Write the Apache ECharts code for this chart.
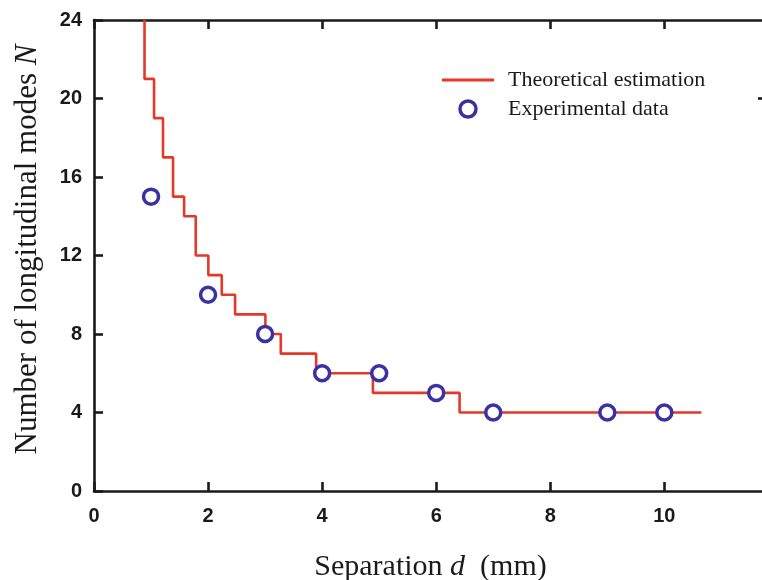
<!DOCTYPE html>
<html>
<head>
<meta charset="utf-8">
<script src="https://cdn.jsdelivr.net/npm/echarts@6/dist/echarts.min.js"></script>
<style>html,body{margin:0;padding:0;background:#fff}#c{width:762px;height:580px}</style>
</head>
<body>
<div id="c"></div>
<script>
// Theoretical estimation (step function): separation d (mm) and N
var stepD = [0.886, 1.053, 1.21, 1.386, 1.58, 1.784, 2.005, 2.24, 2.474, 3.005, 3.275, 3.895, 4.89, 6.41, 10.65];
var stepN = [24, 21, 19, 17, 15, 14, 12, 11, 10, 9, 8, 7, 6, 5, 4];
// Experimental data
var expD = [1, 2, 3, 4, 5, 6, 7, 9, 10];
var expN = [15, 10, 8, 6, 6, 5, 4, 4, 4];
var xTicks = [0, 2, 4, 6, 8, 10];
var yTicks = [0, 4, 8, 12, 16, 20, 24];
var rightTicks = [20];

var RED = '#e4392a', BLUE = '#3a32a2', AX = '#1a1a1a';
var chart = echarts.init(document.getElementById('c'), null, {renderer: 'canvas'});
function axisLine() { return {show: true, onZero: false, lineStyle: {color: AX, width: 2.6}}; }
function tick(custom) {
  var t = {show: true, inside: true, length: 9, lineStyle: {color: AX, width: 2.6}};
  if (custom) t.customValues = custom;
  return t;
}
var labelStyle = {fontFamily: 'Liberation Sans', fontWeight: 'bold', fontSize: 20, color: '#1a1a1a'};
var titleStyle = function (size, pad) {
  return {fontFamily: 'Liberation Serif', fontSize: size, color: '#1a1a1a', padding: pad,
    rich: {i: {fontFamily: 'Liberation Serif', fontStyle: 'italic', fontSize: size, color: '#1a1a1a'}}};
};

chart.setOption({
  animation: false,
  backgroundColor: '#fff',
  grid: {left: 94, top: 20, width: 673, height: 471, containLabel: false, outerBoundsMode: 'none'},
  legend: {
    orient: 'vertical', left: 437, top: 64,
    itemWidth: 52, itemHeight: 16, itemGap: 7,
    textStyle: {fontFamily: 'Liberation Serif', fontSize: 22, color: '#1a1a1a', padding: [0, 0, 0, 9]},
    data: [
      {name: 'Theoretical estimation', icon: 'path://M0,0 L52,0 L52,3 L0,3 Z'},
      {name: 'Experimental data', icon: 'circle', itemStyle: {color: '#fff', borderColor: BLUE, borderWidth: 3.5}}
    ]
  },
  xAxis: [{
    type: 'value', min: 0, max: 11.8, interval: 2, position: 'bottom',
    axisLine: axisLine(), axisTick: tick(), splitLine: {show: false},
    axisLabel: Object.assign({margin: 15, showMaxLabel: false,
      formatter: function (v) { return xTicks.indexOf(v) >= 0 ? String(v) : ''; }}, labelStyle),
    name: 'Separation {i|d}  (mm)', nameLocation: 'middle', nameGap: 61,
    nameTextStyle: titleStyle(30, 0)
  }, {
    type: 'value', min: 0, max: 11.8, interval: 2, position: 'top',
    axisLine: axisLine(), axisTick: tick(), axisLabel: {show: false}, splitLine: {show: false}
  }],
  yAxis: [{
    type: 'value', min: 0, max: 24, interval: 4, position: 'left',
    axisLine: axisLine(), axisTick: tick(), splitLine: {show: false},
    axisLabel: Object.assign({margin: 12,
      formatter: function (v) { return yTicks.indexOf(v) >= 0 ? String(v) : ''; }}, labelStyle),
    name: 'Number of longitudinal modes {i|N}', nameLocation: 'middle', nameGap: 51,
    nameTextStyle: titleStyle(31, [0, 0, 0, 12])
  }, {
    type: 'value', min: 0, max: 24, interval: 4, position: 'right',
    axisLine: axisLine(), axisTick: tick(rightTicks), axisLabel: {show: false}, splitLine: {show: false}
  }],
  series: [{
    name: 'Theoretical estimation', type: 'line', step: 'start',
    showSymbol: false, symbol: 'none',
    lineStyle: {color: RED, width: 2.6},
    itemStyle: {color: RED},
    data: stepD.map(function (d, i) { return [d, stepN[i]]; }),
    z: 2
  }, {
    name: 'Experimental data', type: 'scatter', symbol: 'circle', symbolSize: 15,
    itemStyle: {color: '#fff', borderColor: BLUE, borderWidth: 3.5, opacity: 1},
    data: expD.map(function (d, i) { return [d, expN[i]]; }),
    z: 3
  }]
});
</script>
</body>
</html>
